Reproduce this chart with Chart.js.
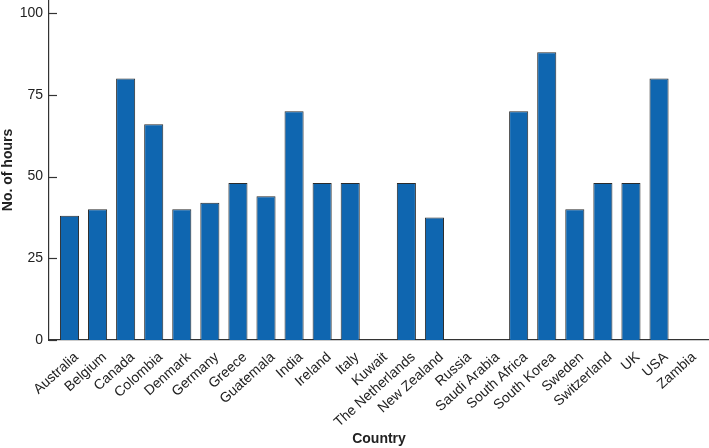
<!DOCTYPE html>
<html>
<head>
<meta charset="utf-8">
<script src="https://cdn.jsdelivr.net/npm/chart.js@4/dist/chart.umd.min.js"></script>
<style>
  html, body { margin:0; padding:0; background:#fff; }
  #wrap { position:relative; width:709px; height:448px; }
</style>
</head>
<body>
<div id="wrap"><canvas id="c"></canvas></div>
<script>
// Stunden pro Land
var countries = ["Australia","Belgium","Canada","Colombia","Denmark","Germany","Greece","Guatemala","India","Ireland","Italy","Kuwait","The Netherlands","New Zealand","Russia","Saudi Arabia","South Africa","South Korea","Sweden","Switzerland","UK","USA","Zambia"];
var hours = [38,40,80,66,40,42,48,44,70,48,48,0,48,37.5,0,0,70,88,40,48,48,80,0];
var yTicks = [0,25,50,75,100];

var BLUE = "#0f66b0", EDGE = "#2b2b2b", AXIS = "#333";
var FONT = "'Liberation Sans', Arial, sans-serif";

// kleine Striche nach innen an der y-Achse
var innerTicks = {
  id:"innerTicks",
  afterDraw:function(chart){
    var y = chart.scales.y, ctx = chart.ctx;
    ctx.save();
    ctx.strokeStyle = AXIS; ctx.lineWidth = 1.2;
    yTicks.forEach(function(v){
      var py = Math.round(y.getPixelForValue(v)) + 0.5;
      ctx.beginPath(); ctx.moveTo(y.right, py); ctx.lineTo(y.right + 8, py); ctx.stroke();
    });
    ctx.restore();
  }
};

new Chart(document.getElementById("c"), {
  type:"bar",
  data:{
    labels:countries,
    datasets:[{ data:hours, backgroundColor:BLUE, borderColor:EDGE, borderWidth:1,
      categoryPercentage:1, barPercentage:0.68 }]
  },
  options:{
    responsive:true, maintainAspectRatio:false, animation:false,
    layout:{ padding:0 },
    plugins:{ legend:{display:false}, tooltip:{enabled:false} },
    scales:{
      x:{
        // etwas mehr Rand links/rechts wie im Original
        afterBuildTicks:function(s){ s._startValue = -0.73; s._valueRange = countries.length + 0.51; },
        afterFit:function(s){ s.height = 108; s.paddingLeft = 0; s.paddingRight = 0; },
        grid:{ display:false },
        border:{ display:true, color:AXIS, width:1.2 },
        ticks:{ color:"#222", font:{family:FONT, size:14}, minRotation:42, maxRotation:42, autoSkip:false, padding:1, labelOffset:7 },
        title:{ display:true, text:"Country", color:"#222", font:{family:FONT, size:14, weight:"bold"}, padding:0 }
      },
      y:{
        min:0, max:104,
        afterBuildTicks:function(s){ s.ticks = yTicks.map(function(v){ return {value:v}; }); },
        afterFit:function(s){ s.width = 49; s.paddingTop = 0; s.paddingBottom = 0; },
        grid:{ display:false, drawTicks:false },
        border:{ display:true, color:AXIS, width:1.2 },
        ticks:{ color:"#222", font:{family:FONT, size:14}, padding:6 },
        title:{ display:true, text:"No. of hours", color:"#222", font:{family:FONT, size:14, weight:"bold"}, padding:0 }
      }
    }
  },
  plugins:[innerTicks]
});
</script>
</body>
</html>
